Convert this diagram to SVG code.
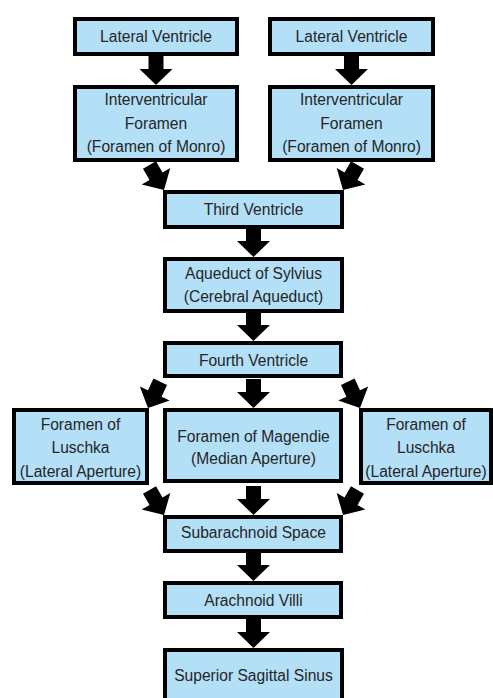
<svg xmlns="http://www.w3.org/2000/svg" width="493" height="698" viewBox="0 0 493 698">
<style>
.box{fill:#b3dff7;stroke:#000;stroke-width:4}
text{font-family:"Liberation Sans",Arial,sans-serif;font-size:15.6px;fill:#262626;text-anchor:middle}
.arr{fill:#000}
</style>
<defs>
<polygon id="ar" points="-7.5,-29 7.5,-29 7.5,-16 16.5,-16 0,0 -16.5,-16 -7.5,-16"/>
</defs>
<rect width="493" height="698" fill="#fff"/>
<g id="connectors" class="arr">
<use href="#ar" transform="translate(156,85)"/>
<use href="#ar" transform="translate(351.5,85)"/>
<use href="#ar" transform="translate(164,190) rotate(-30)"/>
<use href="#ar" transform="translate(343,190) rotate(30)"/>
<use href="#ar" transform="translate(253.5,257)"/>
<use href="#ar" transform="translate(253.5,341)"/>
<use href="#ar" transform="translate(253.5,408)"/>
<use href="#ar" transform="translate(148,408) rotate(25)"/>
<use href="#ar" transform="translate(360,408) rotate(-25)"/>
<use href="#ar" transform="translate(164,515) rotate(-30)"/>
<use href="#ar" transform="translate(343,515) rotate(30)"/>
<use href="#ar" transform="translate(253.5,515)"/>
<use href="#ar" transform="translate(253.5,581)"/>
<use href="#ar" transform="translate(253.5,648)"/>
</g>
<g id="lv1"><rect class="box" x="75" y="19" width="162" height="35"/><text x="156" y="42">Lateral Ventricle</text></g>
<g id="lv2"><rect class="box" x="270" y="19" width="163" height="35"/><text x="351.5" y="42">Lateral Ventricle</text></g>
<g id="if1"><rect class="box" x="75" y="87" width="162" height="73"/><text x="156" y="105">Interventricular</text><text x="156" y="128.5">Foramen</text><text x="156" y="152">(Foramen of Monro)</text></g>
<g id="if2"><rect class="box" x="270" y="87" width="163" height="73"/><text x="351.5" y="105">Interventricular</text><text x="351.5" y="128.5">Foramen</text><text x="351.5" y="152">(Foramen of Monro)</text></g>
<g id="tv"><rect class="box" x="165" y="192" width="177" height="35"/><text x="253.5" y="215">Third Ventricle</text></g>
<g id="aq"><rect class="box" x="165" y="259" width="177" height="52"/><text x="253.5" y="279">Aqueduct of Sylvius</text><text x="253.5" y="302">(Cerebral Aqueduct)</text></g>
<g id="fv"><rect class="box" x="165" y="343" width="176" height="33"/><text x="253.5" y="366">Fourth Ventricle</text></g>
<g id="ll"><rect class="box" x="14" y="410" width="133" height="73"/><text x="80.5" y="430">Foramen of</text><text x="80.5" y="453">Luschka</text><text x="80.5" y="477">(Lateral Aperture)</text></g>
<g id="mg"><rect class="box" x="165" y="410" width="176" height="71"/><text x="253.5" y="442">Foramen of Magendie</text><text x="253.5" y="464">(Median Aperture)</text></g>
<g id="lr"><rect class="box" x="361" y="410" width="130" height="73"/><text x="426" y="430">Foramen of</text><text x="426" y="453">Luschka</text><text x="426" y="477">(Lateral Aperture)</text></g>
<g id="sa"><rect class="box" x="165" y="517" width="176" height="34"/><text x="253.5" y="538">Subarachnoid Space</text></g>
<g id="av"><rect class="box" x="165" y="583" width="176" height="34"/><text x="253.5" y="606">Arachnoid Villi</text></g>
<g id="ss"><rect class="box" x="165" y="650" width="177" height="60"/><text x="253.5" y="681">Superior Sagittal Sinus</text></g>
</svg>
